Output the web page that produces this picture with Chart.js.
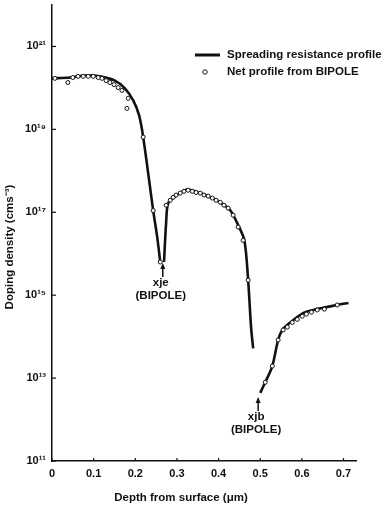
<!DOCTYPE html>
<html><head><meta charset="utf-8">
<script src="https://cdn.jsdelivr.net/npm/chart.js@4.4.1/dist/chart.umd.min.js"></script>
<style>html,body{margin:0;padding:0;background:#fff}#wrap{width:385px;height:508px}</style>
</head><body><div id="wrap"><canvas id="c"></canvas></div>
<script>
// Spreading resistance profile (solid line); null = break in the measured curve
const lineDepth = [0,0.043,0.079,0.115,0.151,0.175,0.195,0.209,0.219,0.243,0.252,0.26,0.263,
  0.269,0.274,0.279,0.296,0.325,0.356,0.38,0.404,0.428,0.447,0.462,0.471,0.478,0.483,0.49,
  0.5,0.512,0.529,0.543,0.553,0.572,0.603,0.627,0.685,0.712];
const lineDensity = [1.7e20,1.78e20,2.0e20,1.9e20,1.5e20,9.8e19,5.0e19,2.2e19,6.5e18,1.1e17,2.8e16,6.3e15,null,
  6.3e15,5.5e16,1.66e17,2.45e17,3.55e17,2.9e17,2.3e17,1.74e17,1.12e17,4.9e16,2.1e16,2.3e15,1.7e14,5.2e13,null,
  4.4e12,7.9e12,1.95e13,8.3e13,1.45e14,2.2e14,3.7e14,4.4e14,5.8e14,6.5e14];
// Net profile from BIPOLE (open circles)
const bipoleDepth = [0.007,0.038,0.05,0.0625,0.075,0.087,0.099,0.111,0.12,0.13,0.139,0.149,0.159,0.168,0.183,0.18,0.219,0.243,0.26,
  0.274,0.284,0.291,0.298,0.308,0.317,0.327,0.337,0.346,0.356,0.365,0.375,0.385,0.394,0.404,0.413,0.423,0.435,0.447,0.459,0.471,
  0.512,0.529,0.543,0.555,0.565,0.577,0.589,0.601,0.611,0.623,0.637,0.654,0.685];
const bipoleDensity = [1.7e20,1.35e20,1.78e20,1.9e20,1.9e20,1.9e20,1.9e20,1.78e20,1.7e20,1.5e20,1.35e20,1.2e20,1.02e20,8.7e19,5.6e19,3.2e19,6.5e18,1.1e17,6.3e15,
  1.48e17,1.95e17,2.3e17,2.6e17,2.9e17,3.2e17,3.4e17,3.2e17,3.0e17,2.9e17,2.6e17,2.45e17,2.2e17,1.95e17,1.74e17,1.48e17,1.26e17,8.5e16,4.4e16,2.1e16,2.3e15,
  7.9e12,1.95e13,8.3e13,1.45e14,1.7e14,2.2e14,2.6e14,3.1e14,3.5e14,3.9e14,4.4e14,4.6e14,5.8e14];
const xTicks = [0,0.1,0.2,0.3,0.4,0.5,0.6,0.7];
const xTickLabels = ['0','0.1','0.2','0.3','0.4','0.5','0.6','0.7'];
const yTicks = [1e11,1e13,1e15,1e17,1e19,1e21];
const yTickLabels = ['10¹¹','10¹³','10¹⁵','10¹⁷','10¹⁹','10²¹'];
const seriesNames = ['Spreading resistance profile','Net profile from BIPOLE'];
const xTitle = 'Depth from surface (μm)';
const yTitle = 'Doping density (cms⁻³)';
const junctions = [{depth:0.266, density:6.0e15, name:'xje'},{depth:0.495, density:3.5e12, name:'xjb'}];

const FAM = '"Liberation Sans", Arial, sans-serif';
const F = 'bold 11.5px ' + FAM;
const decor = {
  id:'decor',
  afterDraw(chart){
    const c = chart.ctx, xs = chart.scales.x, ys = chart.scales.y, a = chart.chartArea;
    c.save();
    c.strokeStyle = '#111'; c.lineWidth = 1.2;
    // inward ticks
    xTicks.forEach(v=>{const p=xs.getPixelForValue(v); c.beginPath(); c.moveTo(p,a.bottom); c.lineTo(p,a.bottom-3); c.stroke();});
    yTicks.forEach(v=>{const p=ys.getPixelForValue(v); c.beginPath(); c.moveTo(a.left,p); c.lineTo(a.left+4,p); c.stroke();});
    c.fillStyle = '#111'; c.font = F; c.textBaseline = 'middle';
    // axis titles
    c.textAlign = 'center';
    c.fillText(xTitle, 181, 498);
    c.save(); c.translate(10, 247); c.rotate(-Math.PI/2); c.fillText(yTitle, 0, 0); c.restore();
    // legend
    c.textAlign = 'left';
    c.lineWidth = 3; c.beginPath(); c.moveTo(195,55); c.lineTo(220,55); c.stroke();
    c.fillText(seriesNames[0], 227, 55);
    c.lineWidth = 1; c.fillStyle = '#fff'; c.beginPath(); c.arc(205,72,2.2,0,Math.PI*2); c.fill(); c.stroke();
    c.fillStyle = '#111'; c.fillText(seriesNames[1], 227, 72);
    // junction annotations
    c.textAlign = 'center';
    junctions.forEach(j=>{
      const px = xs.getPixelForValue(j.depth), py = ys.getPixelForValue(j.density);
      c.lineWidth = 1.5; c.beginPath(); c.moveTo(px, py+14); c.lineTo(px, py+2); c.stroke();
      c.beginPath(); c.moveTo(px, py); c.lineTo(px-2.5, py+6); c.lineTo(px+2.5, py+6); c.closePath(); c.fill();
      c.fillText(j.name, px-2, py+20);
      c.fillText('(BIPOLE)', px-2, py+33);
    });
    c.restore();
  }
};

new Chart(document.getElementById('c'), {
  type:'line',
  data:{datasets:[
    {label:seriesNames[0], data:lineDepth.map((x,i)=>({x, y:lineDensity[i]})), borderColor:'#111', borderWidth:2.6,
     pointRadius:0, tension:0.3, spanGaps:false, order:2},
    {label:seriesNames[1], data:bipoleDepth.map((x,i)=>({x, y:bipoleDensity[i]})), showLine:false, pointRadius:2,
     pointBackgroundColor:'#fff', pointBorderColor:'#111', pointBorderWidth:1, order:1}
  ]},
  options:{
    responsive:true, maintainAspectRatio:false, animation:false, devicePixelRatio:1,
    layout:{padding:{top:4, right:29, left:0, bottom:0}},
    plugins:{legend:{display:false}, tooltip:{enabled:false}},
    scales:{
      x:{type:'linear', min:0, max:0.73,
        afterBuildTicks:s=>{s.ticks = xTicks.map(v=>({value:v}));},
        afterFit:s=>{s.height = 47; s.paddingLeft = 0; s.paddingRight = 0;},
        grid:{display:false, drawTicks:false},
        border:{display:true, color:'#111', width:1.5},
        ticks:{padding:6, color:'#111', font:{family:FAM, size:11, weight:'bold'},
          callback:(v)=>{const i=xTicks.indexOf(v); return i>=0?xTickLabels[i]:'';}, maxRotation:0, autoSkip:false}},
      y:{type:'logarithmic', min:1e11, max:1e22,
        afterBuildTicks:s=>{s.ticks = yTicks.map(v=>({value:v}));},
        afterFit:s=>{s.width = 52; s.paddingTop = 0; s.paddingBottom = 0;},
        grid:{display:false, drawTicks:false},
        border:{display:true, color:'#111', width:1.5},
        ticks:{padding:6, color:'#111', font:{family:FAM, size:11, weight:'bold'},
          callback:(v)=>{const i=yTicks.indexOf(v); return i>=0?yTickLabels[i]:'';}, autoSkip:false}}
    }
  },
  plugins:[decor]
});
</script></body></html>
